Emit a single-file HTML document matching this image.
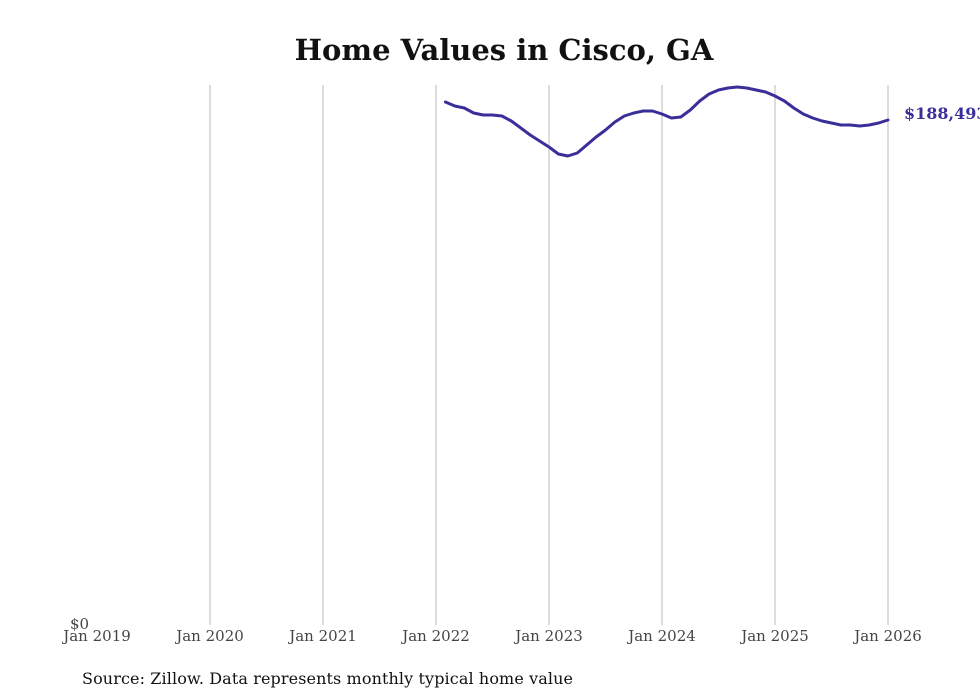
<!DOCTYPE html>
<html><head><meta charset="utf-8"><style>
body{margin:0;background:#fff;}
svg{display:block;font-family:"DejaVu Serif","Liberation Serif",serif;}
</style></head><body>
<svg id="chart" width="980" height="699">
<text x="504" y="60" text-anchor="middle" font-size="29" font-weight="bold" fill="#111">Home Values in Cisco, GA</text>
<g id="grid"></g>
<g id="xticks"></g>
<text x="70" y="629" font-size="15" fill="#444">$0</text>
<path id="line" fill="none" stroke="#3a2f9a" stroke-width="3" stroke-linejoin="round" stroke-linecap="round"></path>
<text id="endlabel" font-size="16" font-weight="bold" fill="#3a2f9a"></text>
<text x="82" y="684" font-size="16" fill="#111" textLength="491">Source: Zillow. Data represents monthly typical home value</text>
</svg>
<script>
const tickYears = [2019,2020,2021,2022,2023,2024,2025,2026];
const tickLabels = ["Jan 2019","Jan 2020","Jan 2021","Jan 2022","Jan 2023","Jan 2024","Jan 2025","Jan 2026"];
const startYear = 2022, startMonth = 1; // Feb 2022 (0-based month)
const values = [195220,193720,192970,191100,190350,190350,189970,188100,185480,182850,180610,
178360,175740,174990,176110,179110,182100,184730,187720,189970,191100,191850,191850,
190720,189220,189600,192220,195590,198220,199720,200460,200840,200460,199720,198970,
197470,195590,192970,190720,189220,188100,187350,186600,186600,186230,186600,187350,188493];
const yMax = 201590;
const x0=97, x1=888, t0=2019, t1=2026;
const xs = t => x0 + (t - t0) / (t1 - t0) * (x1 - x0);
const ys = v => 623 - v / yMax * (623 - 85);
const NS="http://www.w3.org/2000/svg";
const grid=document.getElementById('grid'), xt=document.getElementById('xticks');
tickYears.forEach((y,i)=>{
  const x=xs(y);
  if(i>0){
    const l=document.createElementNS(NS,'line');
    l.setAttribute('x1',x);l.setAttribute('x2',x);l.setAttribute('y1',85);l.setAttribute('y2',625);
    l.setAttribute('stroke','#bbb');l.setAttribute('stroke-width','1');
    
    
    grid.appendChild(l);
  }
  const t=document.createElementNS(NS,'text');
  t.setAttribute('x',x);t.setAttribute('y',641);t.setAttribute('text-anchor','middle');
  t.setAttribute('font-size','15');t.setAttribute('fill','#444');
  t.textContent=tickLabels[i];
  
  
  xt.appendChild(t);
});
let d='';
values.forEach((v,i)=>{
  const t=startYear+(startMonth+i)/12;
  d+=(i?'L':'M')+xs(t).toFixed(1)+' '+ys(v).toFixed(1);
});
document.getElementById('line').setAttribute('d',d);
const last=values[values.length-1];
const el=document.getElementById('endlabel');
el.setAttribute('x',xs(startYear+(startMonth+values.length-1)/12)+16);
el.setAttribute('y',ys(last)-1);
el.textContent='$'+last.toLocaleString('en-US');
</script>
</body></html>
